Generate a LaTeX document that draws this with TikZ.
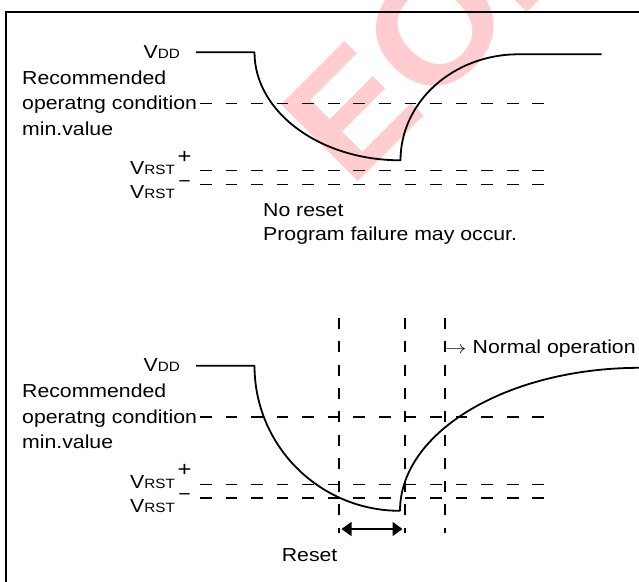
\documentclass[tikz,border=0pt]{standalone}
\usepackage{fontspec}
\setmainfont{Liberation Sans}[FakeStretch=1.13]
\newfontfamily\wmfont{Liberation Sans}[FakeStretch=1.05]
\usetikzlibrary{arrows.meta}
\definecolor{wmpink}{RGB}{255,205,208}
\newcommand\smsz{\fontsize{13.5}{14}\selectfont}
\newcommand\wfpanel{%
  \node[lbl, anchor=base east] (vdd) at (180,-58.3) {V{\smsz DD}};
  \node[lbl, anchor=base west] (rec1) at (22,-84) {Recommended};
  \node[lbl, anchor=base west] (rec2) at (22,-109.5) {operatng condition};
  \node[lbl, anchor=base west] (rec3) at (22,-135) {min.value};
  \node[lbl, anchor=base west] (vrp) at (130,-174.5) {V{\smsz RST}};
  \node[lbl, anchor=base, font=\fontsize{21}{22}\selectfont] (plus) at (184.5,-163.3) {+};
  \node[lbl, anchor=base west] (vrm) at (130,-198.5) {V{\smsz RST}};
  \node[lbl, anchor=base] (minus) at (184.5,-187) {−};
  \coordinate (vddA) at (196,-52.3);
  \coordinate (vddB) at (254.5,-52.3);
  \coordinate (recA) at (200,-103.5);
  \coordinate (recB) at (544,-103.5);
  \coordinate (rpA) at (200,-170.7);
  \coordinate (rpB) at (544,-170.7);
  \coordinate (rmA) at (200,-184.3);
  \coordinate (rmB) at (544,-184.3);
  \draw[guide] (recA) -- (recB);
  \draw[guide] (rpA) -- (rpB);
  \draw[guide] (rmA) -- (rmB);
}
\begin{document}
\begin{tikzpicture}[x=1pt,y=1pt,
  lbl/.style={inner sep=0pt, font=\fontsize{18.8}{22}\selectfont},
  wave/.style={line width=1.8pt, line join=round},
  guide/.style={line width=1.4pt, dash pattern=on 11.7pt off 13.87pt},
  vguide/.style={line width=1.4pt, dash pattern=on 11pt off 12.3pt},
  framel/.style={line width=2pt},
  tipS/.tip={Triangle[length=10pt,width=14pt]}]
\useasboundingbox (0,0) rectangle (639,-581);
% watermark
\begin{scope}
  \clip (0,0) rectangle (639,-581);
  \node[anchor=base west, rotate=45, inner sep=0pt, text=wmpink,
        font=\wmfont\fontsize{158}{158}\selectfont\bfseries] (wm) at (350,-190) {EOL};
\end{scope}
% frame
\coordinate (fTL) at (6,-11.5);
\coordinate (fTR) at (640,-11.5);
\coordinate (fBL) at (6,-582);
\draw[framel] (fTR) -- (fTL) -- (fBL);
% panels
\begin{scope}[name prefix=top-]
  \wfpanel
\end{scope}
\begin{scope}[yshift=-313.5pt, name prefix=bot-]
  \wfpanel
\end{scope}
% top waveform
\coordinate (topEnd) at (601.5,-54.3);
\draw[wave] (top-vddA) -- (top-vddB)
  arc[start angle=180, end angle=270, x radius=146, y radius=108]
  arc[start angle=180, end angle=90, x radius=118, y radius=106]
  -- (topEnd);
\node[lbl, anchor=base west] (nores) at (263,-216.7) {No reset};
\node[lbl, anchor=base west] (pfail) at (263,-240.7) {Program failure may occur.};
% bottom waveform
\draw[wave] (bot-vddA) -- (bot-vddB)
  arc[start angle=180, end angle=270, x radius=145.5, y radius=145]
  arc[start angle=180, end angle=90, x radius=240, y radius=143];
% vertical guides
\coordinate (v1t) at (339,-318); \coordinate (v1b) at (339,-533);
\coordinate (v2t) at (405,-318); \coordinate (v2b) at (405,-533);
\coordinate (v3t) at (445,-318); \coordinate (v3b) at (445,-533);
\draw[vguide] (v1t) -- (v1b);
\draw[vguide] (v2t) -- (v2b);
\draw[vguide] (v3t) -- (v3b);
% reset arrow
\coordinate (rl) at (341.5,-529);
\coordinate (rr) at (402.5,-529);
\draw[line width=1.6pt, {tipS}-{tipS}] (rl) -- (rr);
\node[lbl, anchor=base west] (reset) at (281.7,-561.7) {Reset};
\node[lbl, anchor=base west] (normal) at (445,-353) {\scalebox{1.25}[1]{$\rightarrow$} Normal operation};
\end{tikzpicture}
\end{document}
